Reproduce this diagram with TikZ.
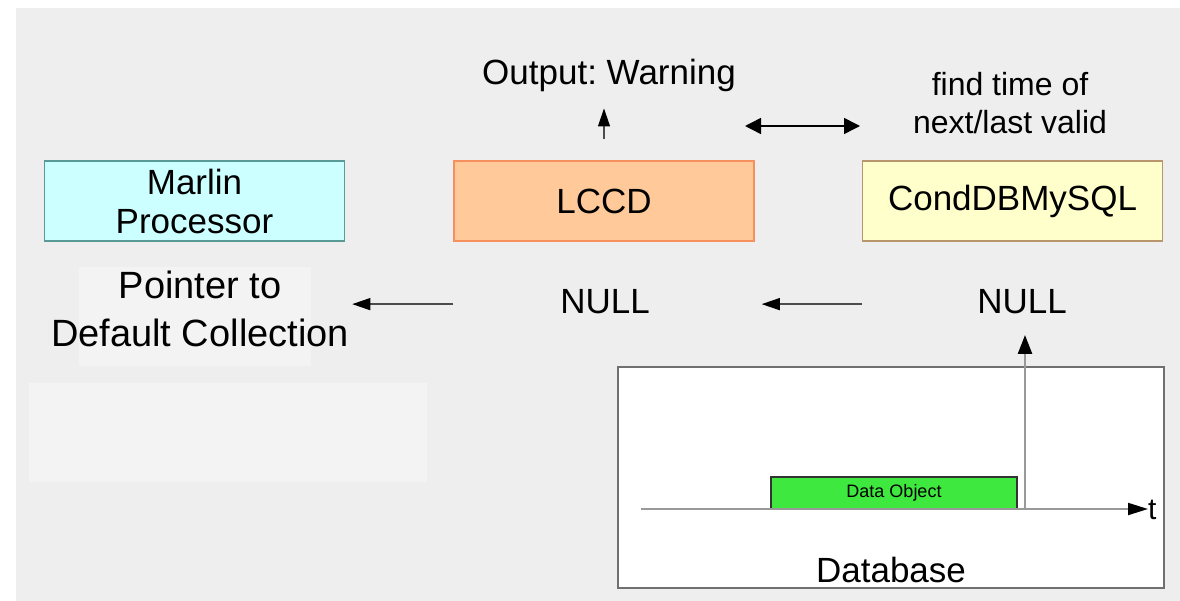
\documentclass[tikz,border=0pt]{standalone}
\usepackage{fontspec}
\setmainfont{Liberation Sans}
\usetikzlibrary{arrows.meta,positioning}
\definecolor{bggray}{HTML}{EEEEEE}
\definecolor{patchgray}{HTML}{F3F3F3}
\definecolor{marlincyan}{HTML}{CCFFFF}
\definecolor{marlinedge}{HTML}{5A9A96}
\definecolor{lccdpeach}{HTML}{FFC999}
\definecolor{lccdedge}{HTML}{F7905F}
\definecolor{condyellow}{HTML}{FFFFCC}
\definecolor{condedge}{HTML}{B8956A}
\definecolor{objgreen}{HTML}{3EE83E}
\definecolor{dbedge}{HTML}{707070}

\begin{document}
\frenchspacing
\begin{tikzpicture}[
  x=1pt, y=-1pt,
  >={Triangle[length=18pt,width=12pt,color=black]},
  every node/.style={font=\fontsize{35}{39}\selectfont, inner sep=0pt},
  box/.style={draw, line width=1.5pt, minimum width=300pt,
              minimum height=80pt, align=center},
  arr/.style={->, line width=1.3pt, draw=black!70},
  axisline/.style={-{Triangle[length=20pt,width=12pt,color=black]},
              line width=2pt, draw=black!40}
]
  \useasboundingbox (0,0) rectangle (1180,601);
  \fill[bggray] (16,8) rectangle (1180,601);
  \fill[patchgray] (79,267) rectangle (311,366);
  \fill[patchgray] (29,383) rectangle (427,482);

  \node[box, fill=marlincyan, draw=marlinedge] (marlin) at (194.5,201)
    {Marlin\\Processor};
  \node[box, fill=lccdpeach, draw=lccdedge, right=108pt of marlin] (lccd) {LCCD};
  \node[box, fill=condyellow, draw=condedge, right=107pt of lccd] (cond)
    {CondDBMySQL};

  \node[anchor=base] (warn) at (609,85) {Output: Warning};
  \node[align=center, font=\fontsize{32}{38}\selectfont] (find) at (1010,103)
    {find time of\\next/last valid};
  \node[align=center, font=\fontsize{38}{48}\selectfont] (pointer) at (200,309)
    {Pointer to\\Default Collection};
  \node[anchor=base] (nullL) at (605,314) {NULL};
  \node[anchor=base] (nullR) at (1022,314) {NULL};

  % database with time axis
  \node[draw=dbedge, line width=2pt, fill=white, minimum width=546pt,
        minimum height=221pt] (db) at (891,477.5) {};
  \node[anchor=base] (dbname) at (891,582) {Database};
  \node[draw=black!80, line width=1.2pt, fill=objgreen, minimum width=246pt,
        minimum height=32pt, font=\fontsize{18}{20}\selectfont]
    (dataobj) at (894,493) {Data Object};
  \node[anchor=base west, font=\fontsize{30}{32}\selectfont] (tlab) at (1148,519) {t};
  \coordinate (tstart) at (641,509);
  \coordinate (vfoot) at (1025,509);
  \coordinate (vtop) at (1025,335);
  \draw[axisline] (tstart) -- (tstart -| tlab.west);
  \draw[-{Triangle[length=19pt,width=14pt,color=black]}, line width=2.5pt,
        draw=black!40] (vfoot) -- (vtop);

  % arrows
  \draw[arr, shorten <=21pt, shorten >=16pt] (lccd.north) -- (lccd.north |- warn.south);
  \coordinate (swapL) at (745,126);
  \coordinate (swapR) at (860,126);
  \draw[{Triangle[length=16pt,width=16pt]}-{Triangle[length=16pt,width=16pt]},
        line width=1.5pt] (swapL) -- (swapR);
  \draw[arr, shorten >=7pt] ([yshift=-2pt]cond.west |- nullR.center)
    -- ([yshift=-2pt]lccd.east |- nullR.center);
  \draw[arr, shorten >=7pt] ([yshift=-2pt]lccd.west |- nullL.center)
    -- ([yshift=-2pt]marlin.east |- nullL.center);
\end{tikzpicture}
\end{document}
